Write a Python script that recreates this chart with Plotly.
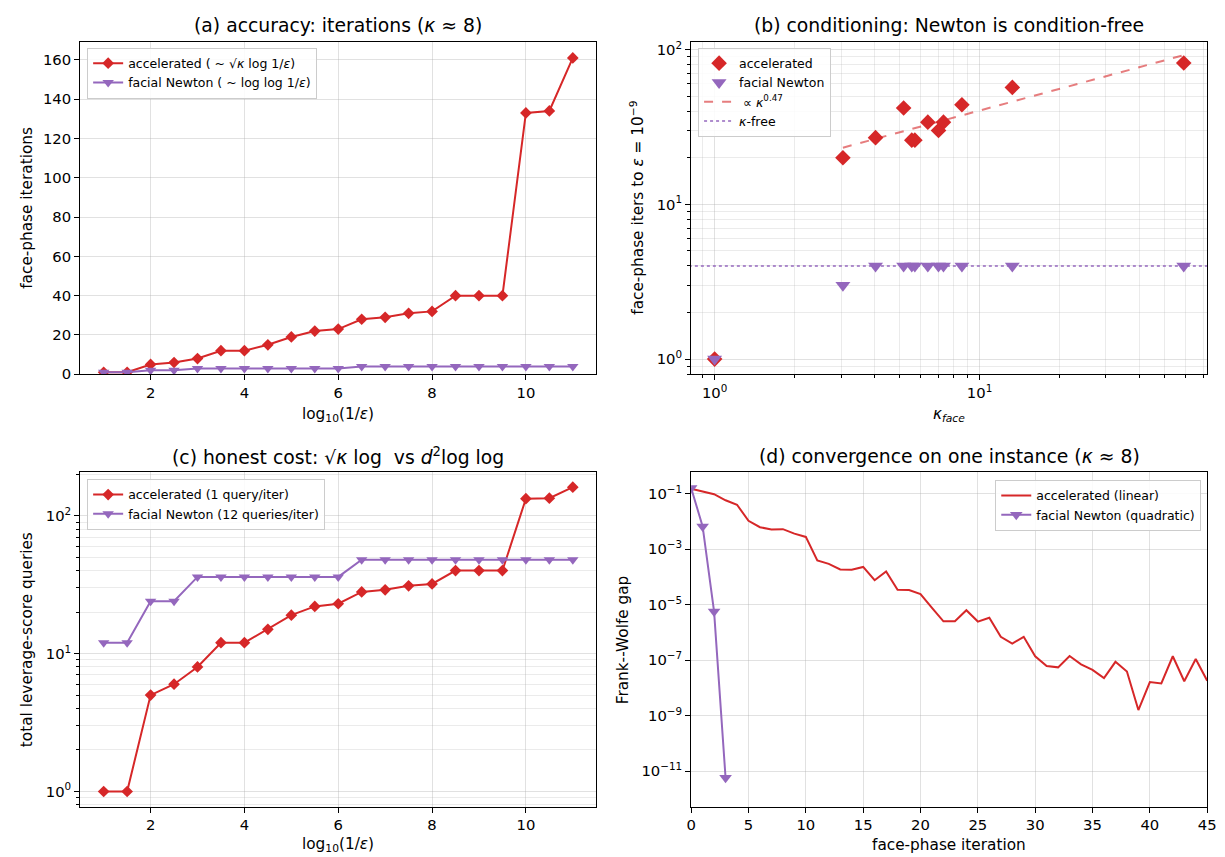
import numpy as np
import plotly.graph_objects as go

W, H = 1225, 857
RED = "#d62728"
PURPLE = "#9467bd"
FONT = "DejaVu Sans"

# ---------------- data ----------------
log_inv_eps = [1, 1.5, 2, 2.5, 3, 3.5, 4, 4.5, 5, 5.5, 6, 6.5, 7, 7.5, 8, 8.5, 9, 9.5, 10, 10.5, 11]
acc_iters = [1, 1, 5, 6, 8, 12, 12, 15, 19, 22, 23, 28, 29, 31, 32, 40, 40, 40, 133, 134, 161]
newton_iters = [1, 1, 2, 2, 3, 3, 3, 3, 3, 3, 3, 4, 4, 4, 4, 4, 4, 4, 4, 4, 4]
queries_per_newton_iter = 12

kappa_face = [1.0, 3.05, 4.05, 5.17, 5.55, 5.7, 6.38, 7.0, 7.31, 8.58, 13.3, 59.0]
acc_iters_kappa = [1, 20, 27, 42, 26, 26, 34, 30, 34, 44, 57, 82]
newton_iters_kappa = [1, 3, 4, 4, 4, 4, 4, 4, 4, 4, 4, 4]
kappa_free_level = 4

acc_gap_log10 = [-0.82, -0.92, -1.02, -1.24, -1.40, -1.98, -2.21, -2.29, -2.28, -2.44,
                 -2.56, -3.41, -3.53, -3.73, -3.74, -3.64, -4.12, -3.80, -4.46, -4.47,
                 -4.62, -5.12, -5.60, -5.60, -5.20, -5.61, -5.47, -6.16, -6.40, -6.16,
                 -6.86, -7.21, -7.26, -6.85, -7.15, -7.35, -7.65, -7.06, -7.41, -8.80,
                 -7.79, -7.84, -6.86, -7.76, -6.96, -7.74]
newton_gap_log10 = [-0.80, -2.18, -5.25, -11.24]

ticks_a_x = [2, 4, 6, 8, 10]
ticks_a_y = [0, 20, 40, 60, 80, 100, 120, 140, 160]
ticks_d_x = [0, 5, 10, 15, 20, 25, 30, 35, 40, 45]
exps_b_y = [0, 1, 2]
exps_b_x = [0, 1]
exps_c_y = [0, 1, 2]
exps_d_y = [-1, -3, -5, -7, -9, -11]

acc_gap = [10 ** v for v in acc_gap_log10]
newton_gap = [10 ** v for v in newton_gap_log10]
iters_acc = list(range(len(acc_gap)))
iters_newton = list(range(len(newton_gap)))
acc_queries = acc_iters
newton_queries = [n * queries_per_newton_iter for n in newton_iters]

# power-law fit (kappa > 1)
kf = np.array(kappa_face)
ya = np.array(acc_iters_kappa, dtype=float)
msk = kf > 1
slope, icpt = np.polyfit(np.log10(kf[msk]), np.log10(ya[msk]), 1)
kfit = np.geomspace(kf[msk].min(), kf[msk].max(), 30)
yfit = 10 ** icpt * kfit ** slope

# log-x range with 5% margins (matplotlib style)
lk0, lk1 = np.log10(min(kappa_face)), np.log10(max(kappa_face))
mk = 0.05 * (lk1 - lk0)
range_b_x = [lk0 - mk, lk1 + mk]


def px(x):
    return x / W


def py(y):
    return 1 - y / H


def sup(e):
    s = str(e).replace("-", "\u2212")
    return f"10<sup>{s}</sup>"


def minor_vals(lo, hi):
    out = []
    for d in range(lo, hi + 1):
        for m in range(2, 10):
            out.append(m * 10 ** d)
    return out


fig = go.Figure()

# (a)
fig.add_trace(go.Scatter(x=log_inv_eps, y=acc_iters, mode="lines+markers", xaxis="x", yaxis="y",
                         line=dict(color=RED, width=2), marker=dict(symbol="diamond", size=9, color=RED),
                         name="accelerated ( ~ \u221a<i>\u03ba</i> log 1/<i>\u03b5</i>)", legend="legend"))
fig.add_trace(go.Scatter(x=log_inv_eps, y=newton_iters, mode="lines+markers", xaxis="x", yaxis="y",
                         line=dict(color=PURPLE, width=2), marker=dict(symbol="triangle-down", size=10, color=PURPLE),
                         name="facial Newton ( ~ log log 1/<i>\u03b5</i>)", legend="legend"))

# (b)
fig.add_trace(go.Scatter(x=kappa_face, y=acc_iters_kappa, mode="markers", xaxis="x2", yaxis="y2",
                         marker=dict(symbol="diamond", size=12, color=RED),
                         name="accelerated", legend="legend2"))
fig.add_trace(go.Scatter(x=kappa_face, y=newton_iters_kappa, mode="markers", xaxis="x2", yaxis="y2",
                         marker=dict(symbol="triangle-down", size=13, color=PURPLE),
                         name="facial Newton", legend="legend2"))
fig.add_trace(go.Scatter(x=kfit, y=yfit, mode="lines", xaxis="x2", yaxis="y2",
                         line=dict(color="rgba(214,39,40,0.6)", width=2, dash="dash"),
                         name=" \u221d <i>\u03ba</i><sup>0.47</sup>", legend="legend2"))
fig.add_trace(go.Scatter(x=[0.5, 100], y=[kappa_free_level, kappa_free_level], mode="lines", xaxis="x2", yaxis="y2",
                         line=dict(color="rgba(148,103,189,0.75)", width=2, dash="dot"),
                         name="<i>\u03ba</i>-free", legend="legend2"))

# (c)
fig.add_trace(go.Scatter(x=log_inv_eps, y=acc_queries, mode="lines+markers", xaxis="x3", yaxis="y3",
                         line=dict(color=RED, width=2), marker=dict(symbol="diamond", size=9, color=RED),
                         name="accelerated (1 query/iter)", legend="legend3"))
fig.add_trace(go.Scatter(x=log_inv_eps, y=newton_queries, mode="lines+markers", xaxis="x3", yaxis="y3",
                         line=dict(color=PURPLE, width=2), marker=dict(symbol="triangle-down", size=10, color=PURPLE),
                         name="facial Newton (12 queries/iter)", legend="legend3"))

# (d)
fig.add_trace(go.Scatter(x=iters_acc, y=acc_gap, mode="lines", xaxis="x4", yaxis="y4",
                         line=dict(color=RED, width=2),
                         name="accelerated (linear)", legend="legend4"))
fig.add_trace(go.Scatter(x=iters_newton, y=newton_gap, mode="lines+markers", xaxis="x4", yaxis="y4",
                         line=dict(color=PURPLE, width=2), marker=dict(symbol="triangle-down", size=11, color=PURPLE),
                         name="facial Newton (quadratic)", legend="legend4"))

GRID = "rgba(176,176,176,0.38)"
MGRID = "rgba(176,176,176,0.25)"
TICKF = dict(family=FONT, size=14.8, color="black")


def ax(domain, anchor, **kw):
    d = dict(domain=domain, anchor=anchor, showline=True, linecolor="black", linewidth=1.1, mirror=True,
             ticks="outside", ticklen=5, tickwidth=1.1, tickcolor="black", showgrid=True, gridcolor=GRID,
             gridwidth=1, zeroline=False, tickfont=TICKF)
    d.update(kw)
    return d


A = dict(l=68, r=590, t=31, b=368)
B = dict(l=686, r=1208, t=31, b=368)
C = dict(l=68, r=590, t=467, b=806)
D = dict(l=686, r=1208, t=467, b=806)


def xd(p):
    return [px(p["l"]), px(p["r"])]


def yd(p):
    return [py(p["b"]), py(p["t"])]


legend_common = dict(bgcolor="rgba(255,255,255,0.85)", bordercolor="#cccccc", borderwidth=1,
                     font=dict(family=FONT, size=12.5, color="black"), tracegroupgap=0, itemwidth=30)

fig.update_layout(
    width=W, height=H, margin=dict(l=0, r=0, t=0, b=0), paper_bgcolor="white", plot_bgcolor="white",
    font=dict(family=FONT, color="black"),
    xaxis=ax(xd(A), "y", range=[0.5, 11.5], tickvals=ticks_a_x),
    yaxis=ax(yd(A), "x", range=[0, 169.3], tickvals=ticks_a_y),
    xaxis2=ax(xd(B), "y2", type="log", range=range_b_x, tickvals=[10 ** e for e in exps_b_x],
              ticktext=[sup(e) for e in exps_b_x],
              minor=dict(tickvals=minor_vals(-1, 1), ticks="outside", ticklen=3, tickcolor="black",
                         showgrid=True, gridcolor=MGRID)),
    yaxis2=ax(yd(B), "x2", type="log", range=[-0.098, 2.052], tickvals=[10 ** e for e in exps_b_y],
              ticktext=[sup(e) for e in exps_b_y],
              minor=dict(tickvals=minor_vals(-1, 2), ticks="outside", ticklen=3, tickcolor="black",
                         showgrid=True, gridcolor=MGRID)),
    xaxis3=ax(xd(C), "y3", range=[0.5, 11.5], tickvals=ticks_a_x),
    yaxis3=ax(yd(C), "x3", type="log", range=[-0.110, 2.317], tickvals=[10 ** e for e in exps_c_y],
              ticktext=[sup(e) for e in exps_c_y],
              minor=dict(tickvals=minor_vals(-1, 2), ticks="outside", ticklen=3, tickcolor="black",
                         showgrid=True, gridcolor=MGRID)),
    xaxis4=ax(xd(D), "y4", range=[0, 45], tickvals=ticks_d_x),
    yaxis4=ax(yd(D), "x4", type="log", range=[-12.28, -0.22], tickvals=[10 ** e for e in exps_d_y],
              ticktext=[sup(e) for e in exps_d_y]),
    legend=dict(x=px(A["l"] + 7), y=py(A["t"] + 6), xanchor="left", yanchor="top", **legend_common),
    legend2=dict(x=px(B["l"] + 7), y=py(B["t"] + 6), xanchor="left", yanchor="top", **legend_common),
    legend3=dict(x=px(C["l"] + 7), y=py(C["t"] + 7), xanchor="left", yanchor="top", **legend_common),
    legend4=dict(x=px(D["r"] - 6), y=py(D["t"] + 8), xanchor="right", yanchor="top", **legend_common),
    showlegend=True,
)

ann = []


def txt(x, y, s, size=15.3, angle=0):
    ann.append(dict(x=px(x), y=py(y), xref="paper", yref="paper", text=s, showarrow=False,
                    xanchor="center", yanchor="middle", textangle=angle,
                    font=dict(family=FONT, size=size, color="black")))


TS = 18.8
txt((A["l"] + A["r"]) / 2, 15, "(a) accuracy: iterations (<i>\u03ba</i> \u2248 8)", TS)
txt((B["l"] + B["r"]) / 2, 15, "(b) conditioning: Newton is condition-free", TS)
txt((C["l"] + C["r"]) / 2, 451, "(c) honest cost: \u221a<i>\u03ba</i> log  vs <i>d</i><sup>2</sup>log log", TS)
txt((D["l"] + D["r"]) / 2, 451, "(d) convergence on one instance (<i>\u03ba</i> \u2248 8)", TS)

txt((A["l"] + A["r"]) / 2, 409, "log<sub>10</sub>(1/<i>\u03b5</i>)")
txt((C["l"] + C["r"]) / 2, 845, "log<sub>10</sub>(1/<i>\u03b5</i>)")
txt((B["l"] + B["r"]) / 2, 409, "<i>\u03ba<sub>face</sub></i>")
txt((D["l"] + D["r"]) / 2, 845, "face-phase iteration")

txt(14, (A["t"] + A["b"]) / 2, "face-phase iterations", angle=-90)
txt(14, (C["t"] + C["b"]) / 2, "total leverage-score queries", angle=-90)
txt(631, (B["t"] + B["b"]) / 2, "face-phase iters to <i>\u03b5</i> = 10<sup>\u22129</sup>", angle=-90)
txt(617, (D["t"] + D["b"]) / 2, "Frank--Wolfe gap", angle=-90)

fig.update_layout(annotations=ann)
fig.write_html("out.html")
